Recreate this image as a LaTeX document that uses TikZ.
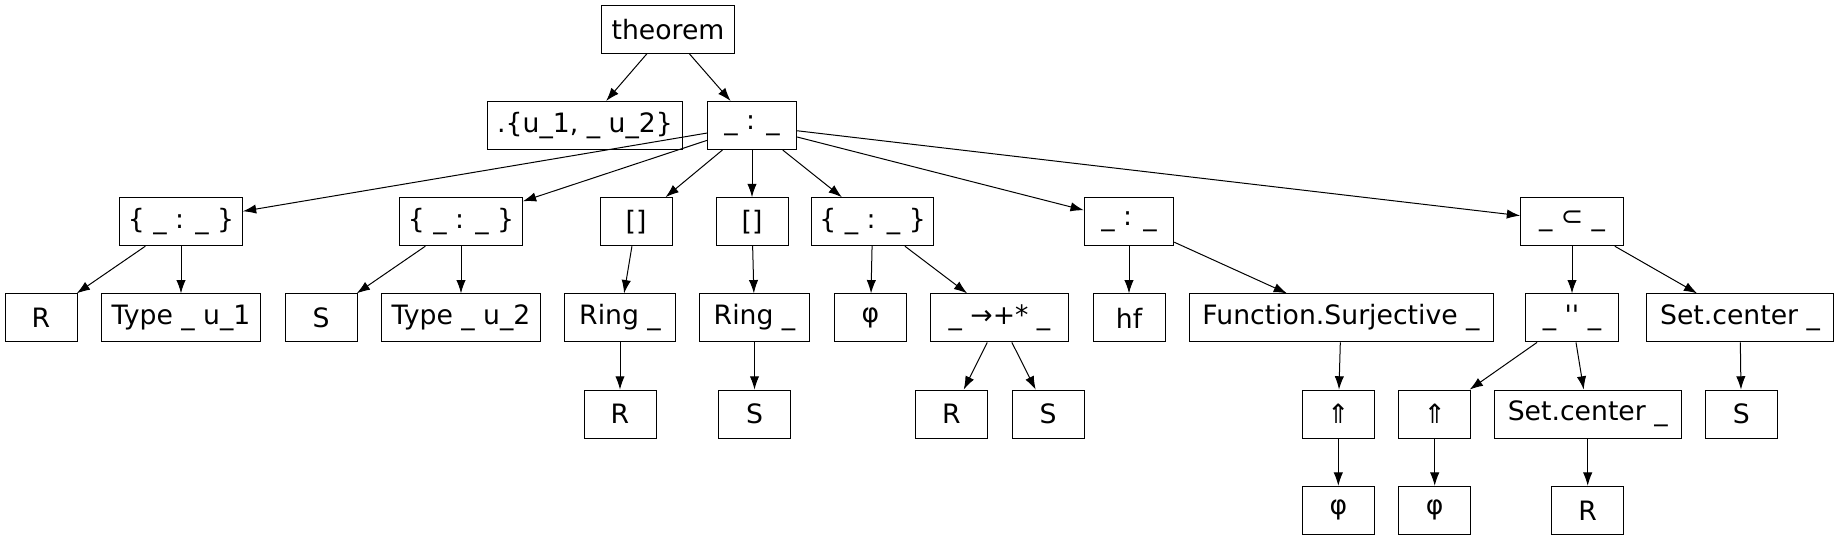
\documentclass[tikz,border=0pt]{standalone}
\usepackage{fontspec}
\newfontfamily\dejavu{DejaVu Sans}
\usetikzlibrary{arrows.meta}
\begin{document}
\begin{tikzpicture}[x=0.75pt,y=-0.75pt]
			\tikzstyle{fleche}=[->,>={Latex[length=10pt,width=7pt]},line width=0.75pt]
			\tikzstyle{noeud}=[draw,line width=0.75pt,font=\dejavu\fontsize{20}{24}\selectfont,minimum width=54pt,minimum height=36pt,inner xsep=2pt,inner ysep=0pt]
			\def\DistanceInterNiveaux{96.2}
			\def\NiveauA{(0)*\DistanceInterNiveaux+29.3}
			\def\NiveauB{(1)*\DistanceInterNiveaux+29.3}
			\def\NiveauC{(2)*\DistanceInterNiveaux+29.3}
			\def\NiveauD{(3)*\DistanceInterNiveaux+29.3}
			\def\NiveauE{(4)*\DistanceInterNiveaux+29.3}
			\def\NiveauF{(5)*\DistanceInterNiveaux+29.3}
			\useasboundingbox (0,0) rectangle (1839,539);
			\node[noeud,minimum width=100pt] (R) at (668,{\NiveauA}) {theorem};
			\node[noeud,minimum width=146pt] (Ra) at (585,{\NiveauB}) {.\{u\_1, \_ u\_2\}};
			\node[noeud,minimum width=67pt] (Rb) at (752,{\NiveauB}) {\_ : \_};
			\node[noeud,minimum width=92pt] (Rba) at (181,{\NiveauC}) {\{ \_ : \_ \}};
			\node[noeud,minimum width=92pt] (Rbb) at (461,{\NiveauC}) {\{ \_ : \_ \}};
			\node[noeud] (Rbc) at (636,{\NiveauC}) {[]};
			\node[noeud] (Rbd) at (752,{\NiveauC}) {[]};
			\node[noeud,minimum width=92pt] (Rbe) at (872.6,{\NiveauC}) {\{ \_ : \_ \}};
			\node[noeud,minimum width=67pt] (Rbf) at (1129,{\NiveauC}) {\_ : \_};
			\node[noeud,minimum width=77pt] (Rbg) at (1572,{\NiveauC}) {\_ ⊂ \_};
			\node[noeud] (Rbaa) at (41,{\NiveauD}) {R};
			\node[noeud,minimum width=119pt] (Rbab) at (181,{\NiveauD}) {Type \_ u\_1};
			\node[noeud] (Rbba) at (321,{\NiveauD}) {S};
			\node[noeud,minimum width=119pt] (Rbbb) at (461,{\NiveauD}) {Type \_ u\_2};
			\node[noeud,minimum width=83pt] (Rbca) at (620,{\NiveauD}) {Ring \_};
			\node[noeud,minimum width=83pt] (Rbda) at (754.5,{\NiveauD}) {Ring \_};
			\node[noeud] (Rbea) at (870.5,{\NiveauD}) {φ};
			\node[noeud,minimum width=103pt] (Rbeb) at (999.5,{\NiveauD}) {\_ →+* \_};
			\node[noeud] (Rbfa) at (1129,{\NiveauD}) {hf};
			\node[noeud,minimum width=228pt] (Rbfb) at (1341,{\NiveauD}) {Function.Surjective \_};
			\node[noeud,minimum width=70pt] (Rbga) at (1572,{\NiveauD}) {\_ '' \_};
			\node[noeud,minimum width=140pt] (Rbgb) at (1740,{\NiveauD}) {Set.center \_};
			\node[noeud] (Rbcaa) at (620,{\NiveauE}) {R};
			\node[noeud] (Rbdaa) at (754.5,{\NiveauE}) {S};
			\node[noeud] (Rbeba) at (951.5,{\NiveauE}) {R};
			\node[noeud] (Rbebb) at (1048,{\NiveauE}) {S};
			\node[noeud] (Rbfba) at (1338.3,{\NiveauE}) {⇑};
			\node[noeud] (Rbgaa) at (1434.7,{\NiveauE}) {⇑};
			\node[noeud,minimum width=140pt] (Rbgab) at (1587.7,{\NiveauE}) {Set.center \_};
			\node[noeud] (Rbgba) at (1741.3,{\NiveauE}) {S};
			\node[noeud] (Rbfbaa) at (1338.3,{\NiveauF}) {φ};
			\node[noeud] (Rbgaaa) at (1434.7,{\NiveauF}) {φ};
			\node[noeud] (Rbgaba) at (1587.7,{\NiveauF}) {R};
			\draw[fleche] (R)--(Ra);
			\draw[fleche] (R)--(Rb);
			\draw[fleche] (Rb)--(Rba);
			\draw[fleche] (Rb)--(Rbb);
			\draw[fleche] (Rb)--(Rbc);
			\draw[fleche] (Rb)--(Rbd);
			\draw[fleche] (Rb)--(Rbe);
			\draw[fleche] (Rb)--(Rbf);
			\draw[fleche] (Rb)--(Rbg);
			\draw[fleche] (Rba)--(Rbaa);
			\draw[fleche] (Rba)--(Rbab);
			\draw[fleche] (Rbb)--(Rbba);
			\draw[fleche] (Rbb)--(Rbbb);
			\draw[fleche] (Rbc)--(Rbca);
			\draw[fleche] (Rbca)--(Rbcaa);
			\draw[fleche] (Rbd)--(Rbda);
			\draw[fleche] (Rbda)--(Rbdaa);
			\draw[fleche] (Rbe)--(Rbea);
			\draw[fleche] (Rbe)--(Rbeb);
			\draw[fleche] (Rbeb)--(Rbeba);
			\draw[fleche] (Rbeb)--(Rbebb);
			\draw[fleche] (Rbf)--(Rbfa);
			\draw[fleche] (Rbf)--(Rbfb);
			\draw[fleche] (Rbfb)--(Rbfba);
			\draw[fleche] (Rbfba)--(Rbfbaa);
			\draw[fleche] (Rbg)--(Rbga);
			\draw[fleche] (Rbg)--(Rbgb);
			\draw[fleche] (Rbga)--(Rbgaa);
			\draw[fleche] (Rbgaa)--(Rbgaaa);
			\draw[fleche] (Rbga)--(Rbgab);
			\draw[fleche] (Rbgab)--(Rbgaba);
			\draw[fleche] (Rbgb)--(Rbgba);
		\end{tikzpicture}
\end{document}
